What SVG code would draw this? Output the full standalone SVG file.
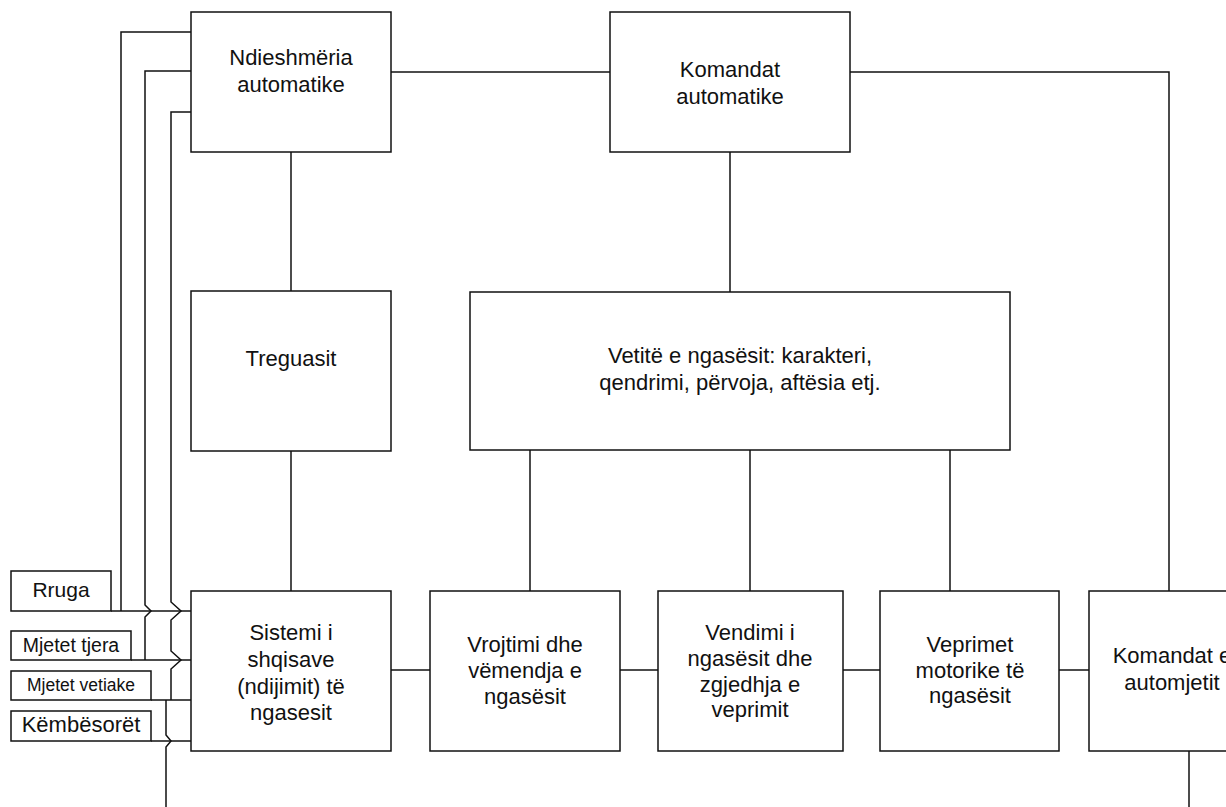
<svg xmlns="http://www.w3.org/2000/svg" width="1226" height="807" viewBox="0 0 1226 807">
<style>
.box{fill:#fff;stroke:#111;stroke-width:1.5}
.ln{fill:none;stroke:#111;stroke-width:1.5}
text{font-family:"Liberation Sans",Arial,sans-serif;font-size:22px;fill:#111;text-anchor:middle}
</style>
<rect width="1226" height="807" fill="#fff"/>
<g id="connectors">
<path class="ln" d="M391,72 H610"/>
<path class="ln" d="M850,72 H1169 V591"/>
<path class="ln" d="M291,152 V291"/>
<path class="ln" d="M291,451 V591"/>
<path class="ln" d="M730,152 V292"/>
<path class="ln" d="M530,450 V591"/>
<path class="ln" d="M750,450 V591"/>
<path class="ln" d="M950,450 V591"/>
<path class="ln" d="M391,670 H430"/>
<path class="ln" d="M620,670 H658"/>
<path class="ln" d="M843,670 H880"/>
<path class="ln" d="M1059,670 H1089"/>
<path class="ln" d="M1189,751 V807"/>
<path class="ln" d="M191,32 H121 V611"/>
<path class="ln" d="M191,71 H145 V605 L151,611 L145,617 V660"/>
<path class="ln" d="M191,112 H171 V602 L181,611 L171,620 V651 L181,660 L171,669 V700"/>
<path class="ln" d="M166,700 V735 L171,741 L166,747 V807"/>
<path class="ln" d="M111,611 H191"/>
<path class="ln" d="M131,660 H191"/>
<path class="ln" d="M151,700 H191"/>
<path class="ln" d="M151,741 H191"/>
</g>
<g id="ndieshmeria"><rect class="box" x="191" y="12" width="200" height="140"/><text x="291" y="65">Ndieshmëria</text><text x="291" y="92">automatike</text></g>
<g id="komandat-automatike"><rect class="box" x="610" y="12" width="240" height="140"/><text x="730" y="77">Komandat</text><text x="730" y="104">automatike</text></g>
<g id="treguasit"><rect class="box" x="191" y="291" width="200" height="160"/><text x="291" y="366">Treguasit</text></g>
<g id="vetite"><rect class="box" x="470" y="292" width="540" height="158"/><text x="740" y="363">Vetitë e ngasësit: karakteri,</text><text x="740" y="390">qendrimi, përvoja, aftësia etj.</text></g>
<g id="sistemi"><rect class="box" x="191" y="591" width="200" height="160"/><text x="291" y="640">Sistemi i</text><text x="291" y="667">shqisave</text><text x="291" y="694">(ndijimit) të</text><text x="291" y="720">ngasesit</text></g>
<g id="vrojtimi"><rect class="box" x="430" y="591" width="190" height="160"/><text x="525" y="652">Vrojtimi dhe</text><text x="525" y="678">vëmendja e</text><text x="525" y="704">ngasësit</text></g>
<g id="vendimi"><rect class="box" x="658" y="591" width="185" height="160"/><text x="750" y="640">Vendimi i</text><text x="750" y="666">ngasësit dhe</text><text x="750" y="692">zgjedhja e</text><text x="750" y="717">veprimit</text></g>
<g id="veprimet"><rect class="box" x="880" y="591" width="179" height="160"/><text x="970" y="652">Veprimet</text><text x="970" y="678">motorike të</text><text x="970" y="703">ngasësit</text></g>
<g id="komandat-automjetit"><rect class="box" x="1089" y="591" width="180" height="160"/><text x="1172" y="663">Komandat e</text><text x="1172" y="690">automjetit</text></g>
<g id="rruga"><rect class="box" x="11" y="571" width="100" height="40"/><text x="61" y="597" style="font-size:21px">Rruga</text></g>
<g id="mjetet-tjera"><rect class="box" x="11" y="631" width="120" height="29"/><text x="71" y="652" style="font-size:19.5px">Mjetet tjera</text></g>
<g id="mjetet-vetiake"><rect class="box" x="11" y="671" width="140" height="29"/><text x="81" y="691" style="font-size:17.5px">Mjetet vetiake</text></g>
<g id="kembesoret"><rect class="box" x="11" y="711" width="140" height="30"/><text x="81" y="732" style="font-size:22px">Këmbësorët</text></g>
</svg>
